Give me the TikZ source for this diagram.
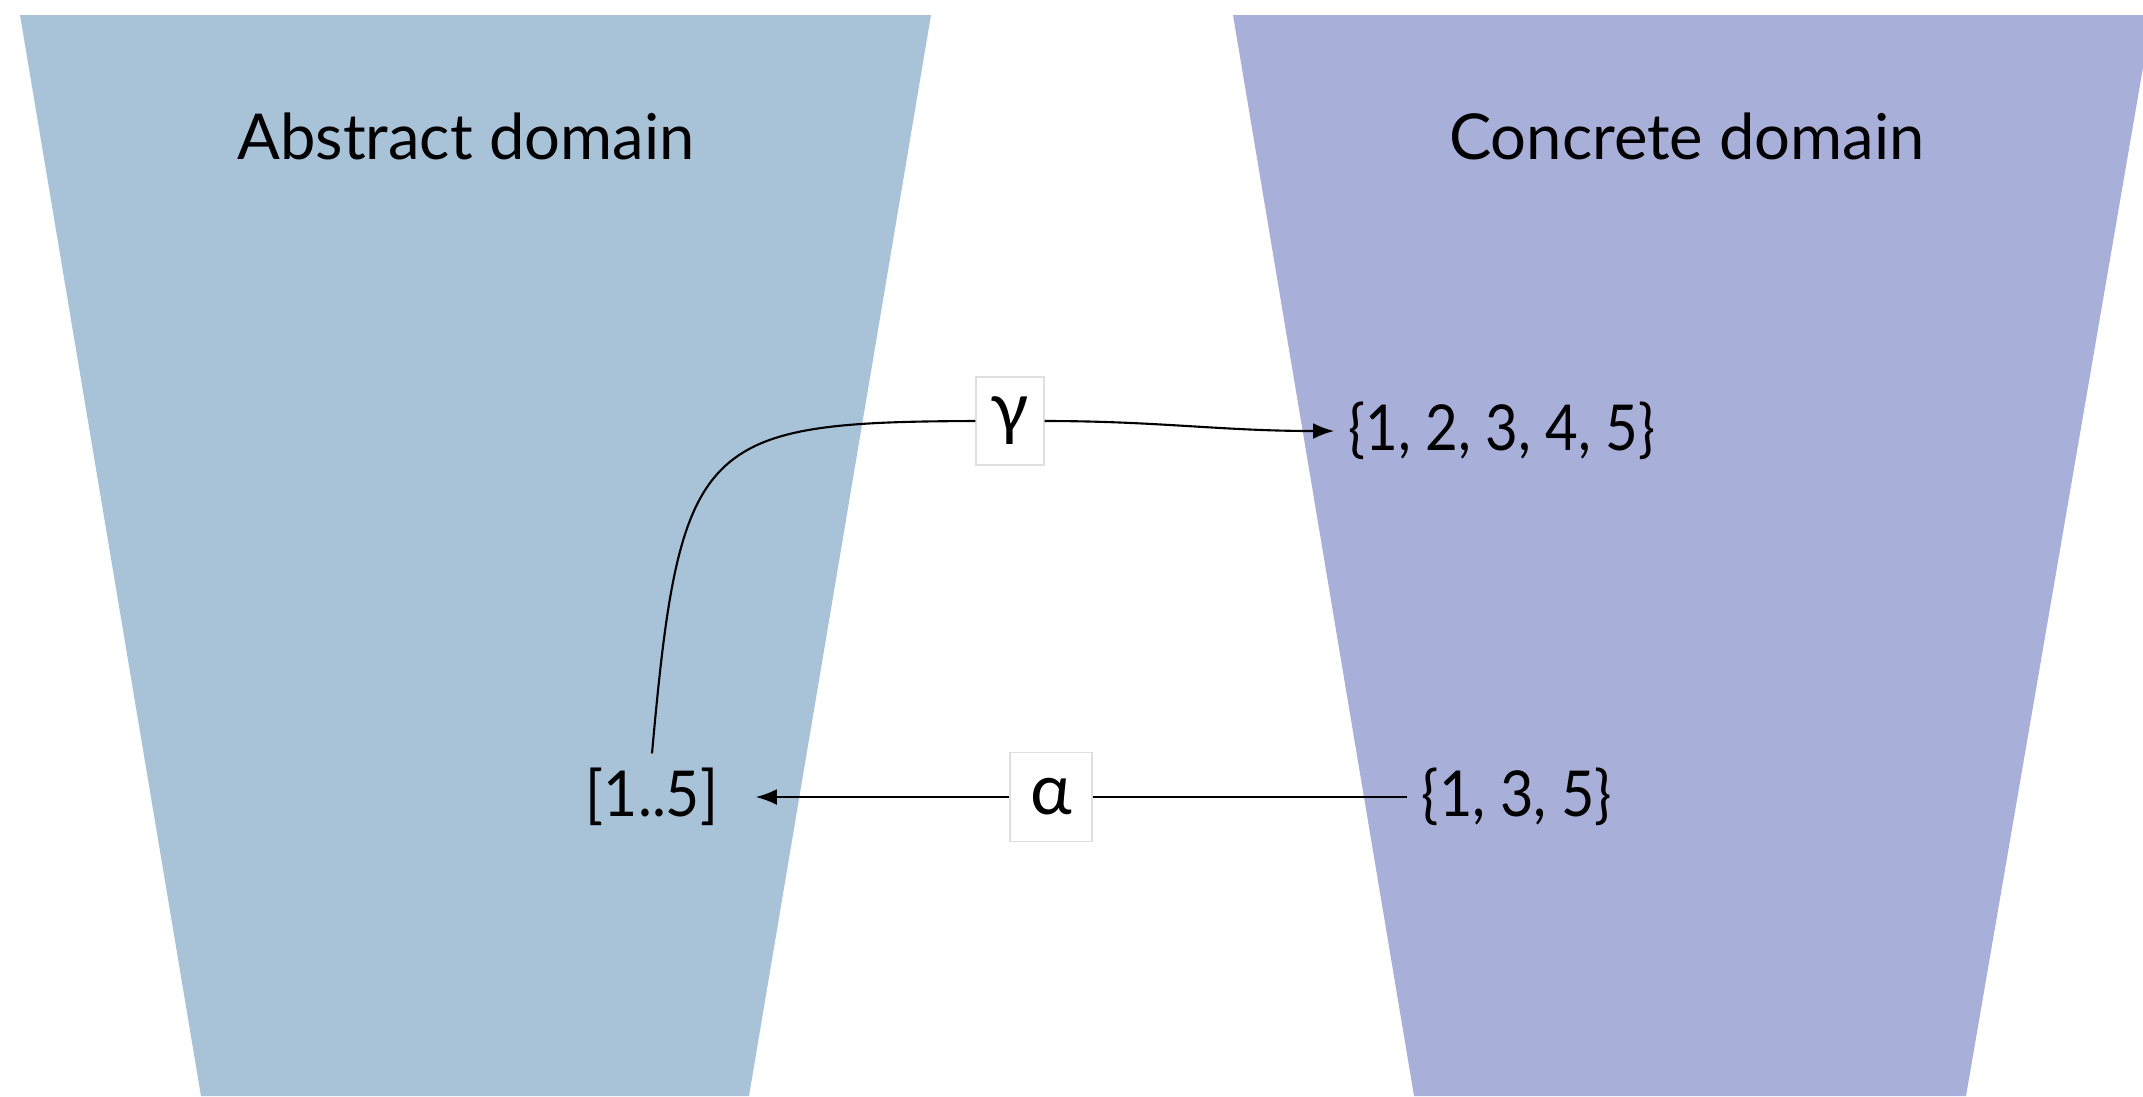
\documentclass[tikz,border=0pt]{standalone}
\usepackage{graphicx}
\usepackage{fontspec}
\setmainfont{Lato}
\usetikzlibrary{arrows.meta}
\definecolor{absblue}{RGB}{168,194,216}
\definecolor{conblue}{RGB}{168,175,217}
\definecolor{boxedge}{RGB}{222,222,222}
\newcommand{\narrowtxt}[2]{\scalebox{#1}[1]{#2}}
\begin{document}
\begin{tikzpicture}[x=0.01cm,y=-0.01cm,
  txt/.style={font=\fontsize{18}{22}\selectfont, inner sep=4pt},
  lbl/.style={draw=boxedge, line width=0.4pt, fill=white, font=\fontsize{20}{24}\selectfont, inner sep=0pt},
  link/.style={line width=0.6pt},
  conn/.style={line width=0.6pt, -{Latex[length=6pt,width=4.5pt]}}]
\useasboundingbox (0,0) rectangle (2143,1096);
\clip (0,0) rectangle (2143,1096);
\fill[absblue] (20,15) -- (931,15) -- (749,1096) -- (201,1096) -- cycle;
\fill[conblue] (1233,15) -- (2152,15) -- (1966,1096) -- (1414,1096) -- cycle;

\node[txt] (abs) at (466,136) {Abstract domain};
\node[txt] (con) at (1687,136) {Concrete domain};
\node[txt] (s12345) at (1502,431) {\narrowtxt{0.89}{\{1, 2, 3, 4, 5\}}};
\node[txt] (r15) at (652,797) {\narrowtxt{0.93}{[1..5]}};
\node[txt] (s135) at (1517,797) {\narrowtxt{0.91}{\{1, 3, 5\}}};
\node[lbl, minimum width=0.68cm, minimum height=0.88cm] (gamma) at (1010,421) {γ};

\draw[link] (r15.north) .. controls (680,440) and (700,422) .. (gamma.west);
\draw[conn] (gamma.east) to[out=0,in=180] (s12345.west);
\draw[conn, shorten >=6.5pt] (s135.west) -- node[lbl, pos=0.528, minimum width=0.82cm, minimum height=0.89cm] (alpha) {α} (r15.east);
\end{tikzpicture}
\end{document}
